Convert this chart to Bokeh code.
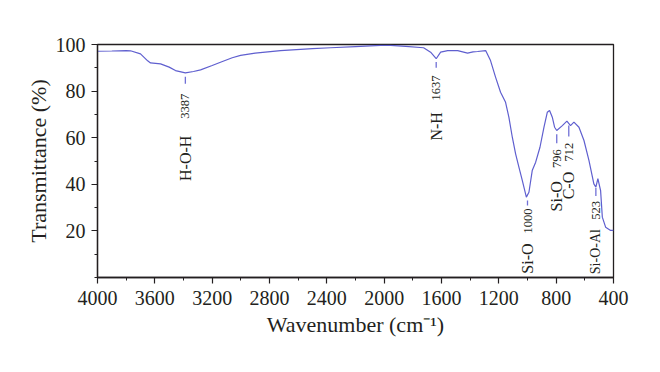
import numpy as np
from bokeh.plotting import figure
from bokeh.models import Range1d, FixedTicker, ColumnDataSource
from bokeh.embed import file_html
from bokeh.resources import INLINE
from bokeh.core.properties import value, field

# ---- data ----
wavenumber = [4000, 3900, 3800, 3770, 3700, 3650, 3630, 3560, 3500, 3456, 3387, 3330,
              3281, 3200, 3142, 3060, 3002, 2900, 2723, 2500, 2374, 2200, 2025, 1955,
              1850, 1725, 1676, 1637, 1606, 1557, 1487, 1418, 1380, 1348, 1292, 1258,
              1223, 1188, 1153, 1130, 1106, 1083, 1060, 1036, 1008, 990, 967, 943,
              913, 885, 862, 846, 827, 811, 796, 757, 725, 700, 676, 641, 606,
              571, 537, 523, 509, 490, 478, 455, 420, 400]
transmittance = [97.1, 97.2, 97.4, 97.3, 96.0, 93.0, 92.1, 91.7, 90.3, 88.8, 87.8, 88.4,
                 89.1, 91.0, 92.4, 94.3, 95.3, 96.3, 97.4, 98.2, 98.6, 99.1, 99.6, 99.6,
                 99.2, 98.6, 96.7, 93.9, 96.7, 97.4, 97.4, 96.3, 96.8, 97.0, 97.4, 93.1,
                 86.0, 79.5, 75.2, 68.8, 60.2, 53.1, 47.4, 41.6, 34.5, 36.6, 45.9, 49.5,
                 55.9, 64.5, 70.9, 71.7, 68.8, 64.5, 63.1, 65.2, 67.1, 65.2, 66.7, 64.5, 58.8,
                 50.2, 40.2, 38.8, 42.4, 37.3, 25.9, 21.6, 20.2, 20.2]

peak_wn = [3387, 1637, 1000, 796, 712, 523]
peak_num = ["3387", "1637", "1000", "796", "712", "523"]
peak_group = ["H-O-H", "N-H", "Si-O", "Si-O", "C-O", "Si-O-Al"]

x_ticks = [4000, 3600, 3200, 2800, 2400, 2000, 1600, 1200, 800, 400]
x_minor = list(range(400, 4001, 200))
y_ticks = [20, 40, 60, 80, 100]
y_minor = list(range(0, 101, 10))

# ---- layout (screen pixel offsets below the curve for each annotation) ----
tick_from_px = [3.7, 3.4, 5.5, 3.7, 2.0, 1.0]
tick_to_px = [10.7, 9.0, 10.5, 12.7, 13.0, 9.0]
num_top_px = [20.7, 16.7, 13.5, 18.7, 19.3, 14.0]
lab_top_px = [62.7, 53.4, 48.5, 50.7, 48.3, 42.0]
lab_size = ["16px", "16px", "16px", "16px", "16px", "14px"]

W, H = 652, 364
BL, BR, BT, BB = 97, 39, 44, 87
FH = H - BT - BB
Y0, Y1 = 0, 100
per_px = (Y1 - Y0) / FH

INK = "#231f20"
CURVE = "#5f5fcf"
FONT = "Liberation Serif"

p = figure(width=W, height=H, output_backend="svg", toolbar_location=None,
           x_range=Range1d(4000, 400), y_range=Range1d(Y0, Y1),
           min_border_left=BL, min_border_right=BR, min_border_top=BT, min_border_bottom=BB)
p.grid.visible = False
p.outline_line_color = INK
p.outline_line_width = 1.3
p.background_fill_color = "white"
p.border_fill_color = "white"

p.line(wavenumber, transmittance, line_color=CURVE, line_width=1.2)

wn_sorted = np.array(wavenumber[::-1], dtype=float)
tr_sorted = np.array(transmittance[::-1], dtype=float)
base = np.interp(np.array(peak_wn, dtype=float), wn_sorted, tr_sorted)

y_t0 = base - np.array(tick_from_px) * per_px
y_t1 = base - np.array(tick_to_px) * per_px
y_num = base - np.array(num_top_px) * per_px
y_lab = base - np.array(lab_top_px) * per_px

p.segment(x0=peak_wn, y0=y_t0, x1=peak_wn, y1=y_t1, line_color="#7070d6", line_width=1.3)

src = ColumnDataSource(dict(x=peak_wn, yn=y_num, yl=y_lab, num=peak_num,
                            grp=peak_group, fs=lab_size))
p.text(x="x", y="yn", text="num", source=src, angle=np.pi / 2,
       text_align="right", text_baseline="middle", text_color=INK,
       text_font=value(FONT), text_font_size="12.5px")
p.text(x="x", y="yl", text="grp", source=src, angle=np.pi / 2,
       text_align="right", text_baseline="middle", text_color=INK,
       text_font=value(FONT), text_font_size=field("fs"))

for ax in (p.xaxis[0], p.yaxis[0]):
    ax.axis_line_color = INK
    ax.axis_line_width = 1.3
    ax.major_tick_line_color = INK
    ax.minor_tick_line_color = INK
    ax.major_tick_line_width = 1.2
    ax.minor_tick_line_width = 1.0
    ax.major_tick_in = 0
    ax.major_tick_out = 6
    ax.minor_tick_in = 0
    ax.minor_tick_out = 3
    ax.major_label_text_font = FONT
    ax.major_label_text_font_size = "20px"
    ax.major_label_text_color = INK
    ax.axis_label_text_font = FONT
    ax.axis_label_text_font_size = "22px"
    ax.axis_label_text_font_style = "normal"
    ax.axis_label_text_color = INK

p.xaxis.ticker = FixedTicker(ticks=x_ticks, minor_ticks=x_minor)
p.yaxis.ticker = FixedTicker(ticks=y_ticks, minor_ticks=y_minor)
p.xaxis.axis_label = "Wavenumber (cm\u207b\u00b9)"
p.yaxis.axis_label = "Transmittance (%)"
p.xaxis.major_label_standoff = 7
p.yaxis.major_label_standoff = 6
p.xaxis.axis_label_standoff = 4
p.yaxis.axis_label_standoff = 2

open("out.html", "w").write(file_html(p, INLINE))
